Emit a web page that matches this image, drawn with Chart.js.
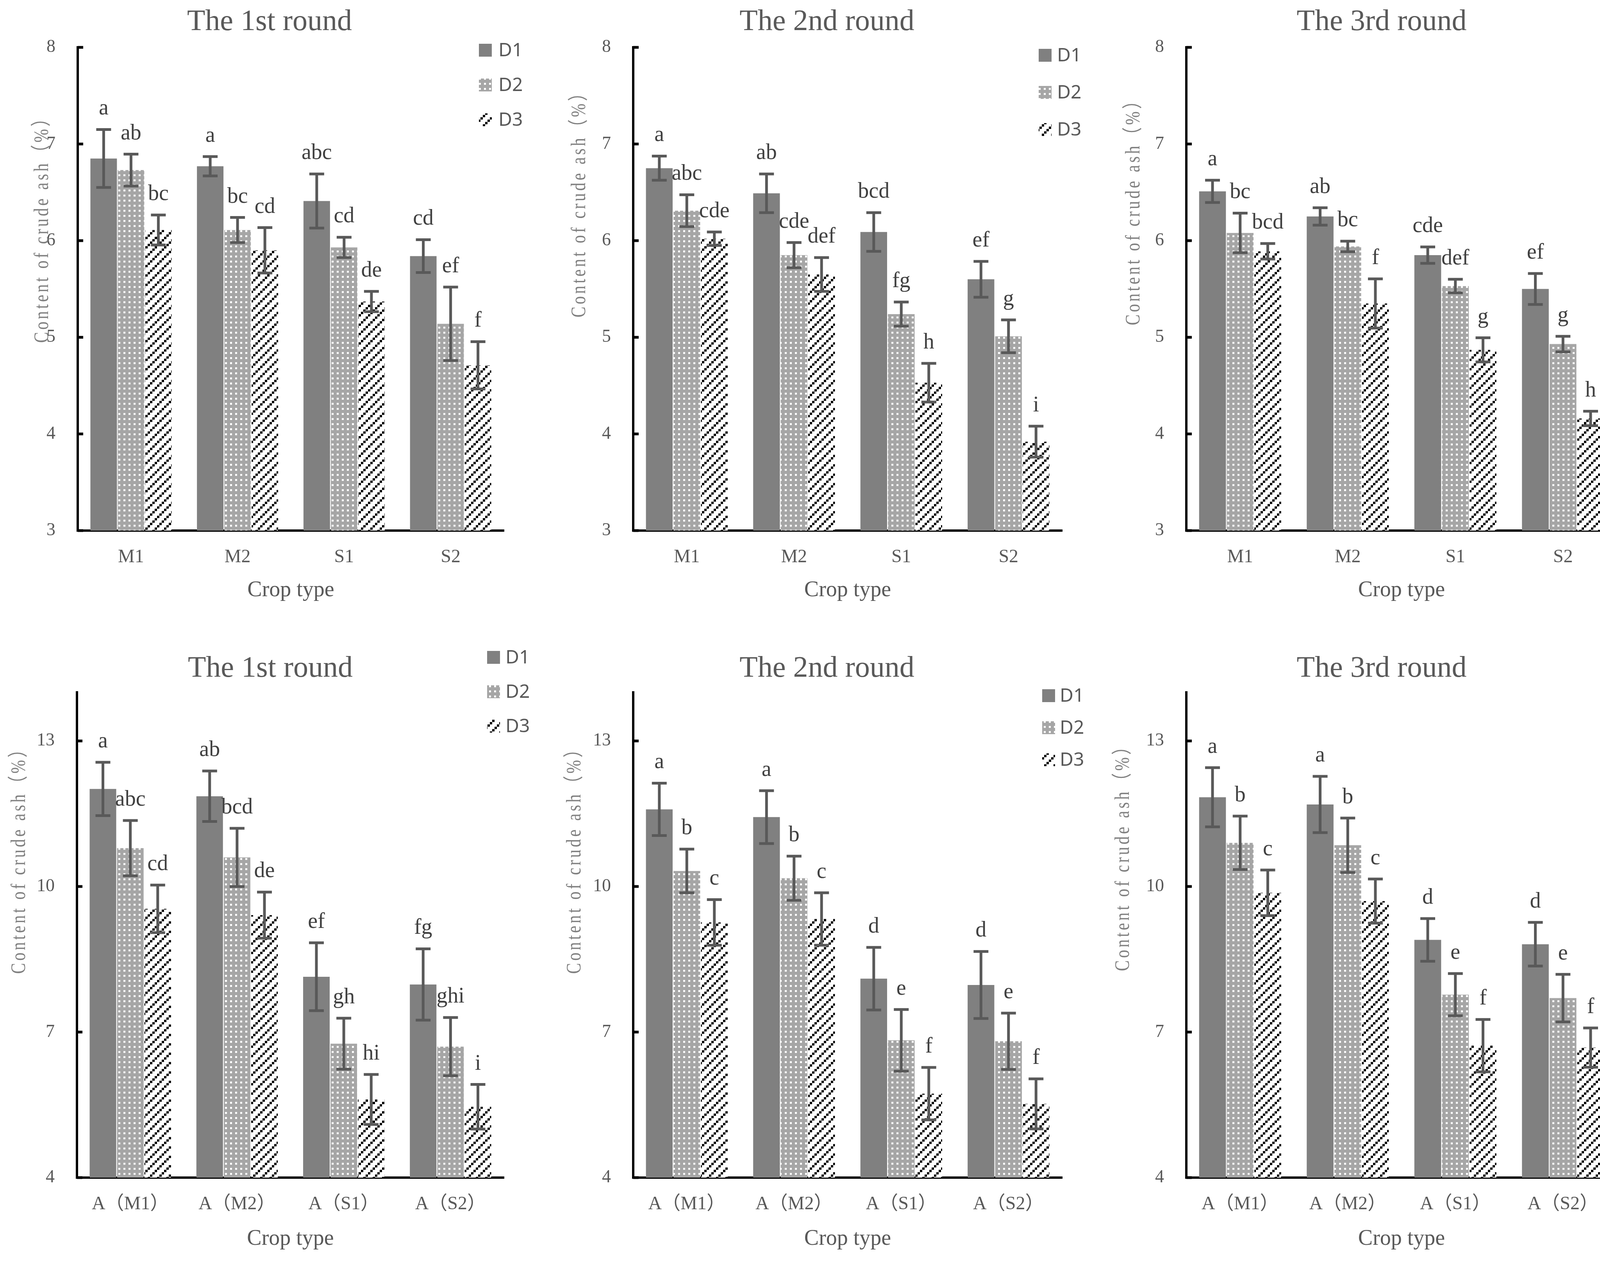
<!DOCTYPE html>
<html>
<head>
<meta charset="utf-8">
<script src="https://cdn.jsdelivr.net/npm/chart.js@4.4.1/dist/chart.umd.min.js"></script>
<style>
  body { margin: 0; background: #fff; width: 4220px; height: 3230px; position: relative; overflow: hidden; }
  canvas { position: absolute; }
</style>
</head>
<body>
<canvas id="c1" width="1407" height="1620" style="left:0;top:0"></canvas>
<canvas id="c2" width="1406" height="1620" style="left:1407px;top:0"></canvas>
<canvas id="c3" width="1407" height="1620" style="left:2813px;top:0"></canvas>
<canvas id="c4" width="1407" height="1610" style="left:0;top:1620px"></canvas>
<canvas id="c5" width="1406" height="1610" style="left:1407px;top:1620px"></canvas>
<canvas id="c6" width="1407" height="1610" style="left:2813px;top:1620px"></canvas>
<script>
// categories / ticks
const cropTypes = ['M1', 'M2', 'S1', 'S2'];
const cropTypesA = ['A（M1）', 'A（M2）', 'A（S1）', 'A（S2）'];
const seriesNames = ['D1', 'D2', 'D3'];
const ticksTop = [3, 4, 5, 6, 7, 8];
const ticksBottom = [4, 7, 10, 13];

// top row, round 1
const t1D1 = [6.85, 6.77, 6.41, 5.84];
const t1D2 = [6.73, 6.11, 5.93, 5.14];
const t1D3 = [6.11, 5.90, 5.37, 4.71];
const t1E1 = [0.30, 0.10, 0.28, 0.17];
const t1E2 = [0.165, 0.13, 0.105, 0.38];
const t1E3 = [0.155, 0.235, 0.105, 0.245];
const t1L1 = ['a', 'a', 'abc', 'cd'];
const t1L2 = ['ab', 'bc', 'cd', 'ef'];
const t1L3 = ['bc', 'cd', 'de', 'f'];

// top row, round 2
const t2D1 = [6.75, 6.49, 6.09, 5.60];
const t2D2 = [6.31, 5.85, 5.24, 5.01];
const t2D3 = [6.02, 5.65, 4.53, 3.92];
const t2E1 = [0.125, 0.20, 0.20, 0.185];
const t2E2 = [0.165, 0.13, 0.125, 0.17];
const t2E3 = [0.07, 0.175, 0.20, 0.16];
const t2L1 = ['a', 'ab', 'bcd', 'ef'];
const t2L2 = ['abc', 'cde', 'fg', 'g'];
const t2L3 = ['cde', 'def', 'h', 'i'];

// top row, round 3
const t3D1 = [6.51, 6.25, 5.85, 5.50];
const t3D2 = [6.08, 5.94, 5.53, 4.93];
const t3D3 = [5.89, 5.35, 4.87, 4.16];
const t3E1 = [0.115, 0.09, 0.085, 0.16];
const t3E2 = [0.205, 0.055, 0.07, 0.08];
const t3E3 = [0.08, 0.255, 0.125, 0.075];
const t3L1 = ['a', 'ab', 'cde', 'ef'];
const t3L2 = ['bc', 'bc', 'def', 'g'];
const t3L3 = ['bcd', 'f', 'g', 'h'];

// bottom row, round 1
const b1D1 = [12.01, 11.86, 8.14, 7.98];
const b1D2 = [10.79, 10.60, 6.76, 6.70];
const b1D3 = [9.54, 9.41, 5.61, 5.46];
const b1E1 = [0.55, 0.52, 0.70, 0.735];
const b1E2 = [0.57, 0.60, 0.525, 0.60];
const b1E3 = [0.49, 0.475, 0.515, 0.46];
const b1L1 = ['a', 'ab', 'ef', 'fg'];
const b1L2 = ['abc', 'bcd', 'gh', 'ghi'];
const b1L3 = ['cd', 'de', 'hi', 'i'];

// bottom row, round 2
const b2D1 = [11.59, 11.43, 8.10, 7.97];
const b2D2 = [10.32, 10.17, 6.83, 6.81];
const b2D3 = [9.26, 9.33, 5.73, 5.52];
const b2E1 = [0.54, 0.545, 0.645, 0.69];
const b2E2 = [0.45, 0.455, 0.635, 0.58];
const b2E3 = [0.47, 0.54, 0.54, 0.515];

// bottom row, round 3
const b3D1 = [11.84, 11.69, 8.90, 8.81];
const b3D2 = [10.90, 10.85, 7.77, 7.70];
const b3D3 = [9.87, 9.70, 6.72, 6.68];
const b3E1 = [0.61, 0.58, 0.44, 0.45];
const b3E2 = [0.55, 0.56, 0.435, 0.49];
const b3E3 = [0.47, 0.455, 0.54, 0.405];

const bL1 = ['a', 'a', 'd', 'd'];
const bL2 = ['b', 'b', 'e', 'e'];
const bL3 = ['c', 'c', 'f', 'f'];

Chart.defaults.font.family = '"Liberation Serif", "Noto Sans CJK SC", serif';
Chart.defaults.color = '#595959';

function dotPattern() {
  const c = document.createElement('canvas');
  c.width = 13; c.height = 13;
  const g = c.getContext('2d');
  g.fillStyle = '#a6a6a6';
  g.fillRect(0, 0, 13, 13);
  g.fillStyle = '#ffffff';
  g.fillRect(4, 4, 5, 5);
  return g.createPattern(c, 'repeat');
}

function stripePattern() {
  const c = document.createElement('canvas');
  c.width = 24; c.height = 24;
  const g = c.getContext('2d');
  g.fillStyle = '#ffffff';
  g.fillRect(0, 0, 24, 24);
  g.fillStyle = '#000000';
  for (let k = 0; k < 4; k++) g.fillRect(k * 6, 18 - k * 6, 6, 6);
  return g.createPattern(c, 'repeat');
}

const fills = ['#808080', dotPattern(), stripePattern()];

// narrow, spaced-out text, one glyph at a time
function spacedText(ctx, text, total, squeeze) {
  const chars = Array.from(text);
  const widths = chars.map(ch => ctx.measureText(ch).width * squeeze);
  const sum = widths.reduce((a, b) => a + b, 0);
  const gap = (total - sum) / (chars.length - 1);
  let x = -total / 2;
  chars.forEach((ch, k) => {
    ctx.save();
    ctx.translate(x, 0);
    ctx.scale(squeeze, 1);
    ctx.fillText(ch, 0, 0);
    ctx.restore();
    x += widths[k] + gap;
  });
}

// error bars, letters, inward ticks, legend and y title
const extras = {
  id: 'extras',
  afterDatasetsDraw(chart, args, opts) {
    const ctx = chart.ctx;
    const y = chart.scales.y;
    const area = chart.chartArea;
    ctx.save();
    ctx.strokeStyle = '#000';
    ctx.lineWidth = 7;
    y.ticks.forEach(t => {
      const py = y.getPixelForValue(t.value);
      ctx.beginPath();
      ctx.moveTo(area.left, py);
      ctx.lineTo(area.left + 14, py);
      ctx.stroke();
    });
    chart.data.datasets.forEach((ds, i) => {
      chart.getDatasetMeta(i).data.forEach((bar, j) => {
        const v = ds.data[j], e = ds.errors[j];
        const top = y.getPixelForValue(v + e);
        const bot = y.getPixelForValue(v - e);
        ctx.strokeStyle = '#595959';
        ctx.lineWidth = 7;
        ctx.beginPath();
        ctx.moveTo(bar.x, top); ctx.lineTo(bar.x, bot);
        ctx.moveTo(bar.x - 19, top); ctx.lineTo(bar.x + 19, top);
        ctx.moveTo(bar.x - 19, bot); ctx.lineTo(bar.x + 19, bot);
        ctx.stroke();
        ctx.fillStyle = '#404040';
        ctx.font = '56px "Liberation Serif"';
        ctx.textAlign = 'center';
        ctx.textBaseline = 'alphabetic';
        ctx.fillText(ds.letters[j], bar.x, top - 38);
      });
    });
    ctx.restore();
  },
  afterDraw(chart, args, opts) {
    const ctx = chart.ctx;
    ctx.save();
    // legend
    const lg = opts.legend;
    ctx.font = '48px "Noto Sans"';
    ctx.textAlign = 'left';
    ctx.textBaseline = 'middle';
    chart.data.datasets.forEach((ds, i) => {
      const by = lg.y + i * lg.step;
      ctx.fillStyle = ds.backgroundColor;
      ctx.fillRect(lg.x, by, 33, 33);
      ctx.fillStyle = '#595959';
      ctx.fillText(ds.label, lg.tx, by + 18);
    });
    // y axis title
    const yt = opts.yTitle;
    ctx.translate(yt.x, yt.y);
    ctx.rotate(-Math.PI / 2);
    ctx.font = '52px "Liberation Serif", "Noto Sans CJK SC"';
    ctx.fillStyle = '#7f7f7f';
    ctx.textAlign = 'left';
    ctx.textBaseline = 'middle';
    spacedText(ctx, 'Content of crude ash（%）', 595, 0.8);
    ctx.restore();
  }
};

const rowTop = { min: 3, max: 8, ticks: ticksTop, cats: cropTypes, titlePad: { top: 11, bottom: 19 }, xHeight: 262, xTitlePad: 75 };
const rowBottom = { min: 4, max: 14, ticks: ticksBottom, cats: cropTypesA, titlePad: { top: 46, bottom: 15 }, xHeight: 216, xTitlePad: 25 };

const panels = [
  { id: 'c1', row: rowTop, title: 'The 1st round', values: [t1D1, t1D2, t1D3], errors: [t1E1, t1E2, t1E3], letters: [t1L1, t1L2, t1L3],
    padL: 90, padR: 117, yWidth: 109, yTitle: { x: 109, y: 580 }, legend: { x: 1226, y: 112, step: 89, tx: 1276 } },
  { id: 'c2', row: rowTop, title: 'The 2nd round', values: [t2D1, t2D2, t2D3], errors: [t2E1, t2E2, t2E3], letters: [t2L1, t2L2, t2L3],
    padL: 108, padR: 94, yWidth: 106, yTitle: { x: 77, y: 515 }, legend: { x: 1252, y: 125, step: 95, tx: 1299 } },
  { id: 'c3', row: rowTop, title: 'The 3rd round', values: [t3D1, t3D2, t3D3], errors: [t3E1, t3E2, t3E3], letters: [t3L1, t3L2, t3L3],
    padL: 122, padR: 81, yWidth: 102, yTitle: { x: 90, y: 535 }, legend: { x: 1285, y: 118, step: 95, tx: 1330 } },
  { id: 'c4', row: rowBottom, title: 'The 1st round', values: [b1D1, b1D2, b1D3], errors: [b1E1, b1E2, b1E3], letters: [b1L1, b1L2, b1L3],
    padL: 94, padR: 117, yWidth: 103, yTitle: { x: 50, y: 575 }, legend: { x: 1247, y: 46, step: 88, tx: 1294 } },
  { id: 'c5', row: rowBottom, title: 'The 2nd round', values: [b2D1, b2D2, b2D3], errors: [b2E1, b2E2, b2E3], letters: [bL1, bL2, bL3],
    padL: 108, padR: 94, yWidth: 106, yTitle: { x: 65, y: 575 }, legend: { x: 1261, y: 144, step: 82, tx: 1306 } },
  { id: 'c6', row: rowBottom, title: 'The 3rd round', values: [b3D1, b3D2, b3D3], errors: [b3E1, b3E2, b3E3], letters: [bL1, bL2, bL3],
    padL: 122, padR: 81, yWidth: 102, yTitle: { x: 63, y: 568 }, legend: { x: 1287, y: 46, step: 88, tx: 1330 } }
];

function drawPanel(p) {
  const ctx = document.querySelector('#' + p.id).getContext('2d');
  const r = p.row;
  new Chart(ctx, {
    type: 'bar',
    data: {
      labels: r.cats,
      datasets: seriesNames.map((name, i) => ({
        label: name,
        data: p.values[i],
        errors: p.errors[i],
        letters: p.letters[i],
        backgroundColor: fills[i],
        borderWidth: 0,
        categoryPercentage: 0.77,
        barPercentage: 0.97
      }))
    },
    options: {
      responsive: false,
      animation: false,
      devicePixelRatio: 1,
      layout: { padding: { left: p.padL, right: p.padR, top: 0, bottom: 0 } },
      plugins: {
        legend: { display: false },
        tooltip: { enabled: false },
        title: {
          display: true,
          text: p.title,
          font: { size: 76, weight: 'normal' },
          color: '#595959',
          padding: r.titlePad
        },
        extras: { legend: p.legend, yTitle: p.yTitle }
      },
      scales: {
        x: {
          grid: { display: false },
          border: { display: true, color: '#000', width: 6 },
          ticks: { font: { size: 48 }, color: '#595959', padding: 32, maxRotation: 0 },
          title: { display: true, text: 'Crop type', font: { size: 56 }, color: '#595959', padding: { top: 0, bottom: r.xTitlePad } },
          afterFit: s => { s.height = r.xHeight; }
        },
        y: {
          min: r.min,
          max: r.max,
          grid: { display: false, drawTicks: false },
          border: { display: true, color: '#000', width: 6 },
          ticks: { font: { size: 46 }, color: '#595959', padding: 57 },
          afterBuildTicks: s => { s.ticks = r.ticks.map(v => ({ value: v })); },
          afterFit: s => { s.width = p.yWidth; }
        }
      }
    },
    plugins: [extras]
  });
}

panels.forEach(drawPanel);
</script>
</body>
</html>
